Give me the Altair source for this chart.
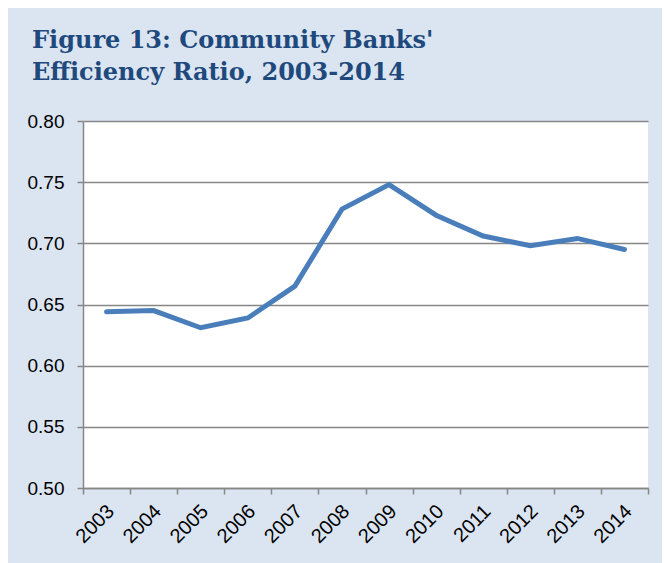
import altair as alt
import pandas as pd

years = ["2003", "2004", "2005", "2006", "2007", "2008", "2009", "2010", "2011", "2012", "2013", "2014"]
ratio = [0.644, 0.645, 0.631, 0.639, 0.665, 0.728, 0.748, 0.723, 0.706, 0.698, 0.704, 0.695]
y_ticks = [0.50, 0.55, 0.60, 0.65, 0.70, 0.75, 0.80]

df = pd.DataFrame({"year": years, "ratio": ratio})

chart = alt.Chart(df).mark_line(color="#4a7ebb", strokeWidth=5, strokeCap="round", strokeJoin="miter").encode(
    x=alt.X("year:O", sort=years, title=None,
            scale=alt.Scale(paddingInner=0, paddingOuter=0),
            axis=alt.Axis(labelAngle=-45, labelAlign="right", labelBaseline="middle",
                          tickBand="extent", tickSize=6, labelPadding=14, labelOffset=4,
                          labelFontSize=20, labelFont="Liberation Sans", labelColor="#000000",
                          domainColor="#868686", tickColor="#868686", domainWidth=1.5, tickWidth=1.5,
                          grid=False)),
    y=alt.Y("ratio:Q", title=None,
            scale=alt.Scale(domain=[0.5, 0.8], nice=False, zero=False),
            axis=alt.Axis(values=y_ticks, format=".2f", tickSize=6, labelPadding=13,
                          labelFontSize=19, labelFont="Liberation Sans", labelColor="#000000",
                          domainColor="#868686", tickColor="#868686", gridColor="#868686",
                          domainWidth=1.5, tickWidth=1.5, gridWidth=1.5, grid=True)),
).properties(
    width=565,
    height=367,
    background="#dbe5f1",
    padding={"left": 75, "top": 113, "right": 14, "bottom": 75},
    autosize=alt.AutoSizeParams(type="none"),
    title=alt.TitleParams(
        text=["Figure 13: Community Banks'", "Efficiency Ratio, 2003-2014"],
        anchor="start", frame="group", orient="top",
        font="DejaVu Serif", fontSize=24, fontWeight="bold", color="#1f497d",
        lineHeight=32, dx=-51, offset=27,
    ),
).configure_view(fill="white", stroke=None)

chart.save("out.html", embed_options={"renderer": "svg", "actions": False})
